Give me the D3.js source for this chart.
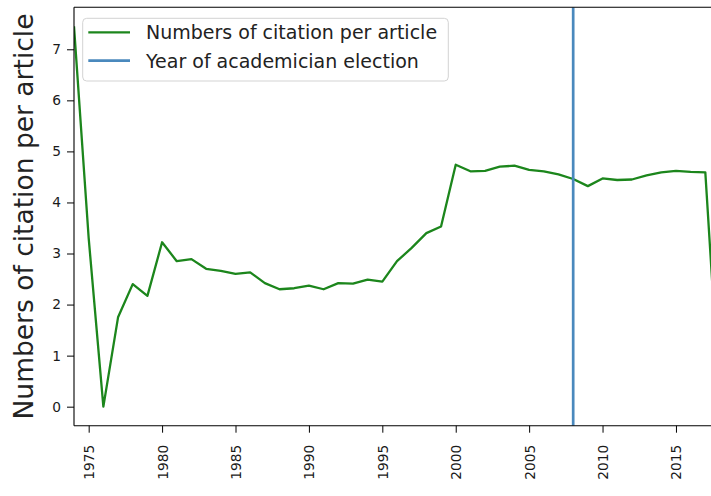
<!DOCTYPE html>
<html>
<head>
<meta charset="utf-8">
<script src="https://cdn.jsdelivr.net/npm/d3@7"></script>
<style>
  html, body { margin: 0; padding: 0; background: #fff; }
  svg { display: block; font-family: "DejaVu Sans", sans-serif; }
</style>
</head>
<body>
<svg id="chart" width="711" height="496"></svg>
<script>
// Citation record per publication year
const years = [1974, 1975, 1976, 1977, 1978, 1979, 1980, 1981, 1982, 1983,
  1984, 1985, 1986, 1987, 1988, 1989, 1990, 1991, 1992, 1993,
  1994, 1995, 1996, 1997, 1998, 1999, 2000, 2001, 2002, 2003,
  2004, 2005, 2006, 2007, 2008, 2009, 2010, 2011, 2012, 2013,
  2014, 2015, 2016, 2017, 2018];
const citationsPerArticle = [7.45, 3.3, 0.0, 1.75, 2.40, 2.17, 3.22, 2.85, 2.89, 2.70,
  2.66, 2.60, 2.63, 2.42, 2.30, 2.32, 2.37, 2.30, 2.42, 2.41,
  2.49, 2.45, 2.85, 3.11, 3.40, 3.53, 4.74, 4.61, 4.62, 4.70,
  4.72, 4.64, 4.61, 4.55, 4.46, 4.32, 4.47, 4.44, 4.45, 4.53,
  4.59, 4.62, 4.60, 4.59, 0.0];
const electionYear = 2008;
const xTicks = [1975, 1980, 1985, 1990, 1995, 2000, 2005, 2010, 2015];
const yTicks = [0, 1, 2, 3, 4, 5, 6, 7];
const seriesNames = ["Numbers of citation per article", "Year of academician election"];
const yLabel = "Numbers of citation per article";

const svg = d3.select("#chart");
const plot = { left: 74, top: 7.3, right: 720, bottom: 425.7 };

// y limits with 5% padding around the data range
const yMin = d3.min(citationsPerArticle), yMax = d3.max(citationsPerArticle);
const pad = (yMax - yMin) * 0.05;

const x = d3.scaleLinear().domain([d3.min(years), d3.max(years)]).range([plot.left, plot.right]);
const y = d3.scaleLinear().domain([yMin - pad, yMax + pad]).range([plot.bottom, plot.top]);

const green = "#1c861c";
const blue = "#4a89bd";
const tickFont = "13.75px";

svg.append("defs").append("clipPath").attr("id", "plotClip")
  .append("rect")
  .attr("x", plot.left).attr("y", plot.top)
  .attr("width", plot.right - plot.left).attr("height", plot.bottom - plot.top);

const g = svg.append("g").attr("clip-path", "url(#plotClip)");

// citation line
const line = d3.line().x((d, i) => x(years[i])).y(d => y(d));
g.append("path")
  .datum(citationsPerArticle)
  .attr("fill", "none")
  .attr("stroke", green)
  .attr("stroke-width", 2.3)
  .attr("stroke-linejoin", "round")
  .attr("d", line);

// election year marker
g.append("line")
  .attr("x1", x(electionYear)).attr("x2", x(electionYear))
  .attr("y1", plot.top).attr("y2", plot.bottom)
  .attr("stroke", blue).attr("stroke-width", 2.7);

// axes
const xAxis = d3.axisBottom(x).tickValues(xTicks).tickSize(7).tickPadding(4).tickFormat(d3.format("d"));
const xg = svg.append("g").attr("transform", `translate(0,${plot.bottom})`).call(xAxis);
xg.attr("font-size", null).attr("font-family", null);
xg.select(".domain").remove();
xg.selectAll(".tick line").attr("stroke", "#000").attr("stroke-width", 1);
xg.selectAll(".tick text")
  .style("font-size", tickFont)
  .style("font-family", "'DejaVu Sans'")
  .attr("fill", "#1a1a1a")
  .attr("text-anchor", "end")
  .attr("dy", null)
  .attr("dominant-baseline", "central")
  .attr("transform", "rotate(-90)")
  .attr("x", -19)
  .attr("y", 0);

const yAxis = d3.axisLeft(y).tickValues(yTicks).tickSize(7).tickPadding(6).tickFormat(d3.format("d"));
const yg = svg.append("g").attr("transform", `translate(${plot.left},0)`).call(yAxis);
yg.attr("font-size", null).attr("font-family", null);
yg.select(".domain").remove();
yg.selectAll(".tick line").attr("stroke", "#000").attr("stroke-width", 1);
yg.selectAll(".tick text")
  .style("font-size", tickFont)
  .style("font-family", "'DejaVu Sans'")
  .attr("fill", "#1a1a1a");

// spines
const spines = [
  [plot.left, plot.top, plot.left, plot.bottom],
  [plot.left, plot.bottom, plot.right, plot.bottom],
  [plot.left, plot.top, plot.right, plot.top],
  [plot.right, plot.top, plot.right, plot.bottom]
];
spines.forEach(([x1, y1, x2, y2]) => {
  svg.append("line").attr("x1", x1).attr("y1", y1).attr("x2", x2).attr("y2", y2)
    .attr("stroke", "#000").attr("stroke-width", 1.1);
});

// y axis title
svg.append("text")
  .attr("transform", `translate(33,${(plot.top + plot.bottom) / 2}) rotate(-90)`)
  .attr("text-anchor", "middle")
  .style("font-size", "26.5px")
  .attr("fill", "#222")
  .text(yLabel);

// legend
const legend = svg.append("g");
legend.append("rect")
  .attr("x", 82.7).attr("y", 18.3).attr("width", 365.6).attr("height", 62.7)
  .attr("rx", 4).attr("ry", 4)
  .attr("fill", "#fff").attr("fill-opacity", 0.8)
  .attr("stroke", "#d3d3d3").attr("stroke-width", 1);
const legendColors = [green, blue];
seriesNames.forEach((name, i) => {
  const cy = 32.3 + i * 28.4;
  legend.append("line")
    .attr("x1", 88.3).attr("x2", 130).attr("y1", cy).attr("y2", cy)
    .attr("stroke", legendColors[i]).attr("stroke-width", i === 0 ? 2.3 : 2.7);
  legend.append("text")
    .attr("x", 146).attr("y", cy + 7)
    .style("font-size", "19px")
    .attr("fill", "#222")
    .text(name);
});
</script>
</body>
</html>
